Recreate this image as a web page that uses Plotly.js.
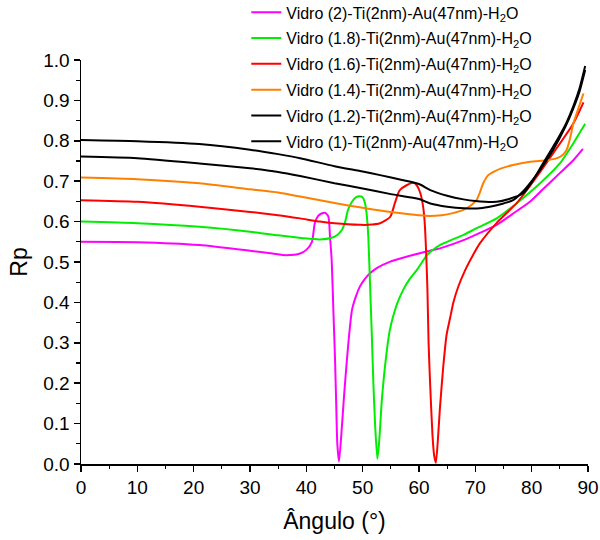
<!DOCTYPE html>
<html>
<head>
<meta charset="utf-8">
<script src="https://cdn.plot.ly/plotly-3.0.1.min.js"></script>
<style>html,body{margin:0;padding:0;background:#fff;}#chart{width:600px;height:540px;}</style>
</head>
<body>
<div id="chart"></div>
<script>
// Series labels
const seriesNames = [
  "Vidro (2)-Ti(2nm)-Au(47nm)-H<sub>2</sub>O",
  "Vidro (1.8)-Ti(2nm)-Au(47nm)-H<sub>2</sub>O",
  "Vidro (1.6)-Ti(2nm)-Au(47nm)-H<sub>2</sub>O",
  "Vidro (1.4)-Ti(2nm)-Au(47nm)-H<sub>2</sub>O",
  "Vidro (1.2)-Ti(2nm)-Au(47nm)-H<sub>2</sub>O",
  "Vidro (1)-Ti(2nm)-Au(47nm)-H<sub>2</sub>O"
];
const seriesColors = ["#ff00ff", "#00ee00", "#ff0000", "#ff8000", "#000000", "#000000"];

// n = 2 (magenta)
const angle_n20 = [0,10,21,30,34,36.5,38.9,40,41,41.5,42.1,42.7,43.3,43.9,44.2,44.5,44.8,45.1,45.3,45.5,45.8,46.3,46.7,47.2,47.6,48.1,48.8,49.5,50.4,51.3,52.5,54.9,57,60.8,62,64,67.9,70.8,73.8,76.5,79.7,82,85,87.4,89.1];
const rp_n20    = [0.550,0.549,0.542,0.528,0.521,0.517,0.521,0.53,0.55,0.596,0.614,0.62,0.622,0.613,0.563,0.505,0.38,0.257,0.15,0.05,0.006,0.09,0.17,0.257,0.32,0.381,0.415,0.439,0.458,0.472,0.485,0.501,0.51,0.524,0.528,0.535,0.554,0.572,0.592,0.618,0.649,0.68,0.72,0.752,0.78];

// n = 1.8 (green)
const angle_n18 = [0,10,21,30,35,39.4,42.4,44.5,45.5,46.3,46.9,47.4,48.1,48.8,49.4,50,50.4,50.7,51.0,51.3,51.6,51.9,52.2,52.6,52.9,53.4,53.8,54.3,54.8,55.4,56.2,57.2,58.3,59.6,61.4,62,63.7,66,67.9,70,73.8,77.3,81.5,85,87.4,89.5];
const rp_n18    = [0.600,0.596,0.587,0.575,0.566,0.559,0.556,0.560,0.567,0.579,0.600,0.629,0.649,0.660,0.663,0.660,0.646,0.620,0.563,0.448,0.33,0.20,0.10,0.013,0.05,0.158,0.22,0.282,0.33,0.365,0.40,0.431,0.457,0.48,0.517,0.525,0.542,0.556,0.567,0.582,0.608,0.645,0.695,0.744,0.794,0.842];

// n = 1.6 (red)
const angle_n16 = [0,10,21,30,35,38.9,42.4,45,49.5,51,53.1,54.9,55.7,56.3,56.6,57.8,59,59.6,60.2,60.7,61.0,61.25,61.5,61.7,62.0,62.4,62.7,63.0,63.4,63.7,64.3,64.9,65.5,66.1,67,68.2,69.5,70.8,73.8,77.3,80.9,83.8,87.4,89.2];
const rp_n16    = [0.653,0.649,0.637,0.624,0.616,0.608,0.600,0.596,0.592,0.592,0.596,0.612,0.645,0.670,0.678,0.690,0.696,0.690,0.672,0.640,0.600,0.53,0.43,0.30,0.19,0.07,0.02,0.003,0.07,0.135,0.24,0.32,0.36,0.40,0.44,0.48,0.515,0.546,0.597,0.645,0.711,0.769,0.843,0.895];

// n = 1.4 (orange)
const angle_n14 = [0,10,21,30,35,38.9,45,50,54.3,60,62,64,66,67.9,69,70.2,70.8,71.4,72.3,73.5,74.5,76.7,79.7,82.7,84.5,85.5,86.2,86.8,87.4,88,88.6,89.2];
const rp_n14    = [0.709,0.705,0.695,0.680,0.672,0.662,0.646,0.634,0.625,0.616,0.614,0.616,0.621,0.629,0.638,0.653,0.672,0.695,0.715,0.725,0.731,0.740,0.748,0.752,0.757,0.765,0.777,0.805,0.843,0.868,0.893,0.917];

// n = 1.2 (black, lower)
const angle_n12 = [0,10,21,30,35,38.9,45,50,55,60,62,65,68,70.8,73,75,76.7,78.5,80,81.5,83.8,86,87.4,88.5,89.5];
const rp_n12    = [0.761,0.757,0.744,0.732,0.723,0.713,0.695,0.682,0.668,0.656,0.645,0.637,0.633,0.633,0.638,0.645,0.653,0.675,0.70,0.728,0.777,0.835,0.88,0.922,0.975];

// n = 1 (black, upper)
const angle_n10 = [0,10,21,30,35,38.9,45,50,53.1,57,60,62,65,67.9,70,73.8,76,78.5,80,81.5,83.8,86,87.4,88.5,89.5];
const rp_n10    = [0.802,0.799,0.792,0.778,0.767,0.757,0.737,0.724,0.715,0.703,0.693,0.678,0.664,0.655,0.651,0.649,0.656,0.670,0.697,0.732,0.785,0.840,0.886,0.930,0.985];

const xTicks = [0,10,20,30,40,50,60,70,80,90];
const yTicks = [0.0,0.1,0.2,0.3,0.4,0.5,0.6,0.7,0.8,0.9,1.0];

const xs = [angle_n20, angle_n18, angle_n16, angle_n14, angle_n12, angle_n10];
const ys = [rp_n20, rp_n18, rp_n16, rp_n14, rp_n12, rp_n10];

const FONT = "Arial, 'Liberation Sans', sans-serif";

const traces = xs.map((x, i) => ({
  x: x, y: ys[i], type: 'scatter', mode: 'lines',
  name: seriesNames[i], legendgroup: 'g' + i,
  line: {color: seriesColors[i], width: 2, shape: 'spline', smoothing: 0.6}
}));

const layout = {
  width: 600, height: 540,
  margin: {l: 81, r: 12, t: 60, b: 76, autoexpand: false},
  paper_bgcolor: '#fff', plot_bgcolor: '#fff',
  font: {family: FONT, color: '#000'},
  showlegend: true,
  legend: {x: 0.326, xanchor: 'left', y: 1.16, yanchor: 'top',
           bgcolor: 'rgba(0,0,0,0)', font: {size: 16, family: FONT, color: '#000'},
           tracegroupgap: 2, itemwidth: 30},
  xaxis: {
    range: [0, 90], tickvals: xTicks, ticktext: xTicks.map(String),
    showgrid: false, zeroline: false, showline: true, linecolor: '#000', linewidth: 1.5,
    ticks: 'outside', ticklen: 6, tickwidth: 1.5, tickcolor: '#000',
    minor: {dtick: 5, tick0: 0, ticks: 'outside', ticklen: 3.5, tickwidth: 1.2, tickcolor: '#000', showgrid: false},
    tickfont: {size: 19, family: FONT, color: '#000'},
    title: {text: 'Ângulo (°)', font: {size: 23, family: FONT, color: '#000'}, standoff: 15}
  },
  yaxis: {
    range: [0, 1.0], tickvals: yTicks, ticktext: yTicks.map(v => v.toFixed(1)),
    showgrid: false, zeroline: false, showline: true, linecolor: '#000', linewidth: 1.5,
    ticks: 'outside', ticklen: 6, tickwidth: 1.5, tickcolor: '#000',
    minor: {dtick: 0.05, tick0: 0, ticks: 'outside', ticklen: 3.5, tickwidth: 1.2, tickcolor: '#000', showgrid: false},
    tickfont: {size: 19, family: FONT, color: '#000'},
    title: {text: 'Rp', font: {size: 23, family: FONT, color: '#000'}, standoff: 9}
  }
};

Plotly.newPlot('chart', traces, layout, {displayModeBar: false, staticPlot: true});
</script>
</body>
</html>
